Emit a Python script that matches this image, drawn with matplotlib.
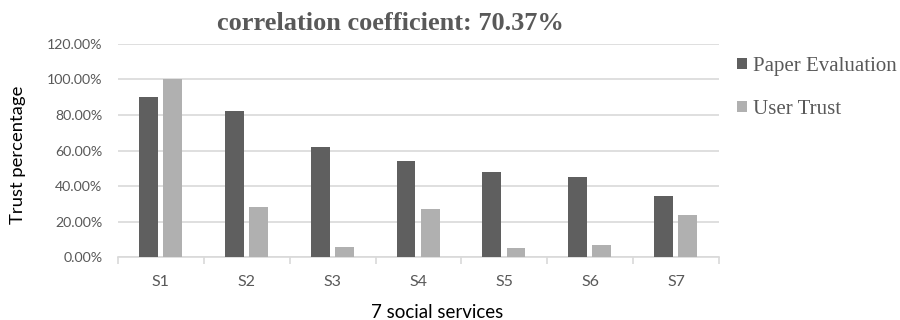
import numpy as np
import matplotlib.pyplot as plt
from matplotlib.ticker import FuncFormatter, FixedLocator

services = ['S1', 'S2', 'S3', 'S4', 'S5', 'S6', 'S7']
paper_eval = [90.2, 82.2, 62.0, 54.1, 48.1, 45.3, 34.6]
user_trust = [100.0, 28.1, 5.8, 27.3, 5.4, 6.9, 23.8]
yticks = [0, 20, 40, 60, 80, 100, 120]

fig = plt.figure(figsize=(9, 3.2), dpi=100)
ax = fig.add_axes([0.131, 0.196, 0.668, 0.667])

x = np.arange(len(services))
w = 0.22
ax.bar(x - 0.145, paper_eval, w, color='#5f5f5f', label='Paper Evaluation', zorder=3)
ax.bar(x + 0.135, user_trust, w, color='#b0b0b0', label='User Trust', zorder=3)

ax.set_xlim(-0.5, len(services) - 0.5)
ax.set_ylim(0, 120)
ax.set_yticks(yticks)
ax.yaxis.set_major_formatter(FuncFormatter(lambda v, p: '%.2f%%' % v))
ax.grid(axis='y', color='#d9d9d9', linewidth=1.2, zorder=0)
ax.tick_params(axis='y', length=0, labelsize=10.2, labelcolor='#595959', pad=11)

ax.set_xticks(x)
ax.set_xticklabels(services)
ax.xaxis.set_minor_locator(FixedLocator(np.arange(-0.5, len(services), 1)))
ax.tick_params(axis='x', which='major', length=0, labelsize=11.5, labelcolor='#595959', pad=13)
ax.tick_params(axis='x', which='minor', length=5, color='#d9d9d9', width=1.2)

for s in ['top', 'right', 'left']:
    ax.spines[s].set_visible(False)
ax.spines['bottom'].set_color('#d9d9d9')
ax.spines['bottom'].set_linewidth(1.2)

for lbl in ax.get_xticklabels() + ax.get_yticklabels():
    lbl.set_family('Lato')

fig.text(437 / 900, 1 - 312 / 320, '7 social services', fontsize=13.5, family='Lato',
         ha='center', va='center')
fig.text(18 / 900, 1 - 155 / 320, 'Trust percentage', fontsize=13.3, family='Lato',
         ha='center', va='center', rotation=90)
fig.text(390 / 900, 1 - 24 / 320, 'correlation coefficient: 70.37%', fontsize=19,
         fontweight='bold', family='Liberation Serif', color='#595959',
         ha='center', va='center')

leg = fig.legend(loc='upper left', bbox_to_anchor=(737 / 900, 1 - 57 / 320), frameon=False,
                 prop={'family': 'Liberation Serif', 'size': 15},
                 handlelength=0.5, handleheight=0.45, handletextpad=0.25,
                 labelspacing=1.15, borderpad=0, borderaxespad=0,
                 labelcolor='#595959')

fig.savefig('out.png', dpi=100)
